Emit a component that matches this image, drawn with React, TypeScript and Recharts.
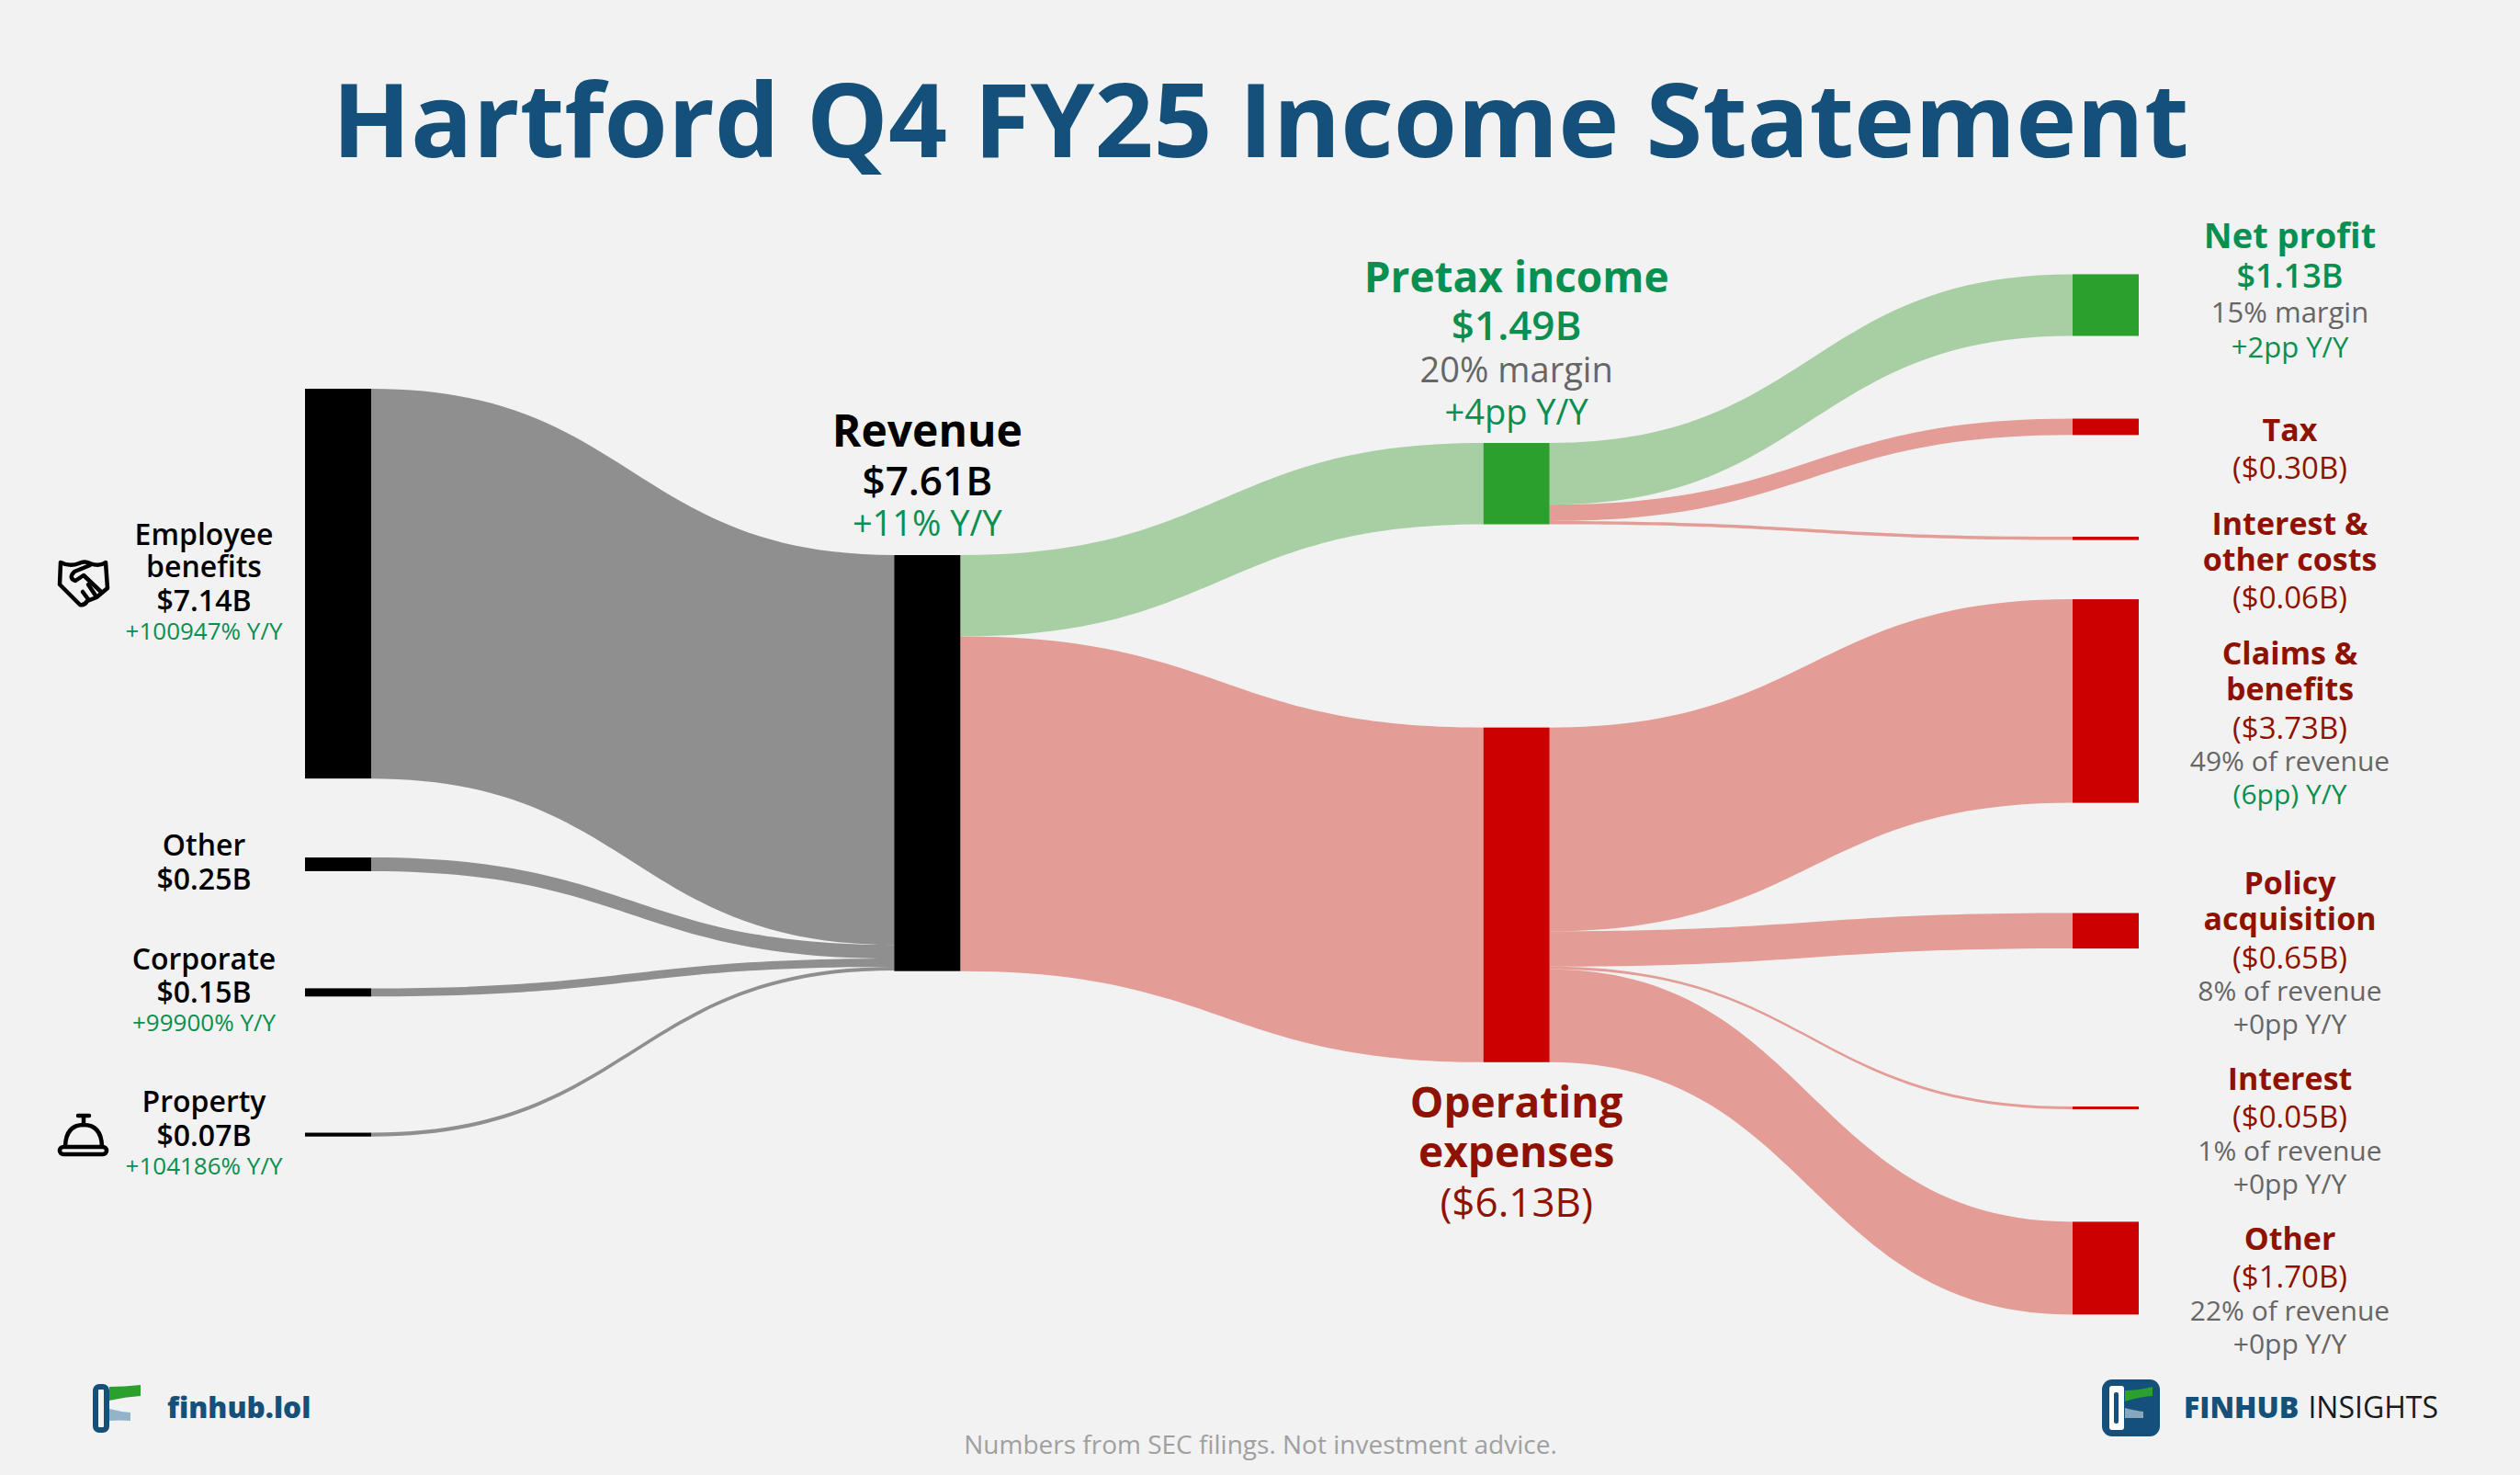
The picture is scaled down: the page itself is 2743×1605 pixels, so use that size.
import React from 'react';
import { Sankey } from 'recharts';

// ---- values ($B) ----
const segmentNames = ['Employee benefits', 'Other', 'Corporate', 'Property'];
const segmentValues = [7.14, 0.25, 0.15, 0.07];
const splitNames = ['Pretax income', 'Operating expenses'];
const splitValues = [1.49, 6.13];
const profitNames = ['Net profit', 'Tax', 'Interest & other costs'];
const profitValues = [1.13, 0.3, 0.06];
const expenseNames = ['Claims & benefits', 'Policy acquisition', 'Interest', 'Other costs'];
const expenseValues = [3.73, 0.65, 0.05, 1.7];

// ---- colours ----
const BG = '#f2f2f2';
const BLUE = '#14507a';
const GREEN_TEXT = '#098f50';
const RED_TEXT = '#8f1200';
const GREY_TEXT = '#666666';
const NODE_GREEN = '#2ca02c';
const NODE_RED = '#cc0000';
const LINK_GREY = '#8f8f8f';
const LINK_GREEN = '#a8cfa4';
const LINK_RED = '#e49c96';

// ---- layout: the empty space of each column, in px, from top to bottom ----
const PX_PER_B = 59.4;
const columnGaps = [
  [124.6, 85.9, 127.5, 148.2],
  [305.6],
  [183.6, 221.1],
  [90, 110.7, 64.4, 119.9, 171.9, 122.4],
];
const chartHeight = 1132;
const totalGap = columnGaps[3].reduce((a, b) => a + b, 0);

type Line = [string, number, number, number, string];
// text, baseline offset from node centre, size, weight, colour
const labels: Record<string, { dx: number; lines: Line[] }> = {
  'Employee benefits': { dx: -146, lines: [['Employee', -42, 32, 600, '#000'], ['benefits', -7, 32, 600, '#000'], ['$7.14B', 30, 32, 600, '#000'], ['+100947% Y/Y', 61, 26, 400, GREEN_TEXT]] },
  Other: { dx: -146, lines: [['Other', -9, 32, 600, '#000'], ['$0.25B', 28, 32, 600, '#000']] },
  Corporate: { dx: -146, lines: [['Corporate', -25, 32, 600, '#000'], ['$0.15B', 11, 32, 600, '#000'], ['+99900% Y/Y', 42, 26, 400, GREEN_TEXT]] },
  Property: { dx: -146, lines: [['Property', -24.5, 32, 600, '#000'], ['$0.07B', 12, 32, 600, '#000'], ['+104186% Y/Y', 43.5, 26, 400, GREEN_TEXT]] },
  Revenue: { dx: 0, lines: [['Revenue', -344, 48, 700, '#000'], ['$7.61B', -291, 44, 600, '#000'], ['+11% Y/Y', -247, 38, 400, GREEN_TEXT]] },
  'Pretax income': { dx: 0, lines: [['Pretax income', -208.5, 46, 700, GREEN_TEXT], ['$1.49B', -156, 44, 600, GREEN_TEXT], ['20% margin', -110.5, 38, 400, GREY_TEXT], ['+4pp Y/Y', -64.5, 38, 400, GREEN_TEXT]] },
  'Operating expenses': { dx: 0, lines: [['Operating', 242, 46, 700, RED_TEXT], ['expenses', 296, 46, 700, RED_TEXT], ['($6.13B)', 350, 44, 400, RED_TEXT]] },
  'Net profit': { dx: 200.5, lines: [['Net profit', -62, 38, 700, GREEN_TEXT], ['$1.13B', -19, 36, 600, GREEN_TEXT], ['15% margin', 19, 31, 400, GREY_TEXT], ['+2pp Y/Y', 57, 31, 400, GREEN_TEXT]] },
  Tax: { dx: 200.5, lines: [['Tax', 16, 34, 700, RED_TEXT], ['($0.30B)', 57, 33, 400, RED_TEXT]] },
  'Interest & other costs': { dx: 200.5, lines: [['Interest &', -4, 34, 700, RED_TEXT], ['other costs', 35, 34, 700, RED_TEXT], ['($0.06B)', 76, 33, 400, RED_TEXT]] },
  'Claims & benefits': { dx: 200.5, lines: [['Claims &', -40, 34, 700, RED_TEXT], ['benefits', -1, 34, 700, RED_TEXT], ['($3.73B)', 41, 33, 400, RED_TEXT], ['49% of revenue', 76, 30, 400, GREY_TEXT], ['(6pp) Y/Y', 112, 30, 400, GREEN_TEXT]] },
  'Policy acquisition': { dx: 200.5, lines: [['Policy', -40, 34, 700, RED_TEXT], ['acquisition', -1, 34, 700, RED_TEXT], ['($0.65B)', 41, 33, 400, RED_TEXT], ['8% of revenue', 76, 30, 400, GREY_TEXT], ['+0pp Y/Y', 112, 30, 400, GREY_TEXT]] },
  Interest: { dx: 200.5, lines: [['Interest', -20, 34, 700, RED_TEXT], ['($0.05B)', 21, 33, 400, RED_TEXT], ['1% of revenue', 57, 30, 400, GREY_TEXT], ['+0pp Y/Y', 93, 30, 400, GREY_TEXT]] },
  'Other costs': { dx: 200.5, lines: [['Other', -20, 34, 700, RED_TEXT], ['($1.70B)', 21, 33, 400, RED_TEXT], ['22% of revenue', 57, 30, 400, GREY_TEXT], ['+0pp Y/Y', 93, 30, 400, GREY_TEXT]] },
};

const nodeFill: Record<string, string> = { 'Pretax income': NODE_GREEN, 'Net profit': NODE_GREEN };
[profitNames[1], profitNames[2], splitNames[1], ...expenseNames].forEach((n) => (nodeFill[n] = NODE_RED));

// ---- Sankey graph. Real nodes go in each column in order; invisible spacer
// nodes carry the column gaps so the library's own stacking places the bars. ----
type N = { name: string; spacer?: boolean };
type K = { source: number; target: number; value: number; fill?: string; spacer?: boolean };
const nodes: N[] = [];
const links: K[] = [];
const spacerIds: number[][] = [[], [], [], []];
const spacerVals: number[][] = [[], [], [], []];

function addSpacer(col: number, px: number): void {
  nodes.push({ name: '', spacer: true });
  spacerIds[col].push(nodes.length - 1);
  spacerVals[col].push(px / PX_PER_B);
}
function addColumn(col: number, names: string[]): Record<string, number> {
  const gaps = columnGaps[col].slice();
  if (col < 3) gaps.push(totalGap - gaps.reduce((a, b) => a + b, 0));
  const ids: Record<string, number> = {};
  names.forEach((name, i) => {
    if (col < 3 || i > 0) addSpacer(col, col < 3 ? gaps[i] : gaps[i - 1]);
    nodes.push({ name });
    ids[name] = nodes.length - 1;
  });
  if (col < 3) addSpacer(col, gaps[names.length]);
  return ids;
}
const c0 = addColumn(0, segmentNames);
const c1 = addColumn(1, ['Revenue']);
const c2 = addColumn(2, splitNames);
const c3 = addColumn(3, [...profitNames, ...expenseNames]);

segmentNames.forEach((n, i) => links.push({ source: c0[n], target: c1.Revenue, value: segmentValues[i], fill: LINK_GREY }));
links.push({ source: c1.Revenue, target: c2[splitNames[0]], value: splitValues[0], fill: LINK_GREEN });
links.push({ source: c1.Revenue, target: c2[splitNames[1]], value: splitValues[1], fill: LINK_RED });
profitNames.forEach((n, i) => links.push({ source: c2[splitNames[0]], target: c3[n], value: profitValues[i], fill: i === 0 ? LINK_GREEN : LINK_RED }));
expenseNames.forEach((n, i) => links.push({ source: c2[splitNames[1]], target: c3[n], value: expenseValues[i], fill: LINK_RED }));

// spacers pass their size on from one column to the next
for (let col = 0; col < 3; col++) {
  const a = spacerVals[col].slice();
  const b = spacerVals[col + 1].slice();
  let i = 0;
  let j = 0;
  while (i < a.length && j < b.length) {
    const v = i === a.length - 1 && j === b.length - 1 ? Math.max(a[i], b[j]) : Math.min(a[i], b[j]);
    if (v > 1e-9) links.push({ source: spacerIds[col][i], target: spacerIds[col + 1][j], value: v, spacer: true });
    a[i] -= v;
    b[j] -= v;
    if (a[i] <= 1e-9 && i < a.length - 1) i++;
    else if (b[j] <= 1e-9 && j < b.length - 1) j++;
    else if (a[i] <= 1e-9 && b[j] <= 1e-9) break;
  }
}

const FONT = '"Open Sans", sans-serif';

function NodeShape(props: any) {
  const { x, y, width, height, payload } = props;
  if (payload.spacer) return <g />;
  const label = labels[payload.name];
  const cx = x + width / 2 + label.dx;
  const cy = y + height / 2;
  return (
    <g>
      <rect x={x} y={y} width={width} height={height} fill={nodeFill[payload.name] ?? '#000'} />
      {label.lines.map(([t, dy, size, weight, color]) => (
        <text key={t} x={cx} y={cy + dy} textAnchor="middle" fontFamily={FONT} fontSize={size} fontWeight={weight} fill={color}>
          {t}
        </text>
      ))}
    </g>
  );
}

function LinkShape(props: any) {
  const { sourceX, targetX, sourceY, targetY, sourceControlX, targetControlX, linkWidth, payload } = props;
  if (payload.spacer) return <g />;
  const h = linkWidth / 2;
  const d =
    `M${sourceX},${sourceY - h} C${sourceControlX},${sourceY - h} ${targetControlX},${targetY - h} ${targetX},${targetY - h} ` +
    `L${targetX},${targetY + h} C${targetControlX},${targetY + h} ${sourceControlX},${sourceY + h} ${sourceX},${sourceY + h} Z`;
  return <path d={d} fill={payload.fill} stroke="none" />;
}

function Overlay() {
  return (
    <svg width={2743} height={1605} style={{ position: 'absolute', left: 0, top: 0, pointerEvents: 'none' }}>
      <text x={1372} y={171} textAnchor="middle" fontFamily={FONT} fontSize={112} fontWeight={700} fill={BLUE}>
        Hartford Q4 FY25 Income Statement
      </text>
      <text x={1372} y={1582} textAnchor="middle" fontFamily={FONT} fontSize={28} fill="#a0a0a0">
        Numbers from SEC filings. Not investment advice.
      </text>

      {/* handshake */}
      <g fill="none" stroke="#000" strokeWidth={4.5} strokeLinejoin="round" strokeLinecap="round">
        <path d="M66,612 L65,636 L87,658 Q92,659 95,654 L105,650 L117,640 L115,612 Q108,617 98,613 Q92,610 86,613 Q76,617 66,612 Z" />
        <path d="M98,615 L81,622 Q74,629 82,632 L91,626 L110,644" />
        <path d="M96,652 L90,644 M104,648 L96,636" />
      </g>
      {/* bell */}
      <g fill="none" stroke="#000" strokeWidth={4.5} strokeLinecap="round">
        <path d="M71,1247 Q72,1224 91,1224 Q110,1224 111,1247" />
        <rect x={65} y={1248} width={51} height={8} rx={4} />
        <path d="M91,1216 L91,1224 M85,1214 L97,1214" />
      </g>

      {/* left logo */}
      <rect x={104} y={1509} width={12} height={47} rx={4} fill={BG} stroke={BLUE} strokeWidth={6} />
      <path d="M119,1509 Q136,1509 153,1507 L153,1519 Q136,1520 119,1524 Z" fill={NODE_GREEN} />
      <path d="M119,1533 Q130,1536 142,1537 L142,1546 Q130,1545 119,1546 Z" fill="#93b3c8" />
      <text x={182} y={1543} fontFamily={FONT} fontSize={31.5} fontWeight={800} fill={BLUE}>
        finhub.lol
      </text>

      {/* right logo */}
      <rect x={2288} y={1501} width={63} height={62} rx={11} fill={BLUE} />
      <rect x={2296} y={1508} width={16} height={48} rx={3} fill="#fff" />
      <rect x={2301} y={1515} width={5} height={34} rx={2} fill={BLUE} />
      <path d="M2313,1513 Q2328,1513 2343,1509 L2343,1519 Q2328,1520 2313,1525 Z" fill={NODE_GREEN} />
      <path d="M2313,1532 Q2325,1535 2333,1536 L2333,1543 Q2325,1543 2313,1543 Z" fill="#86a7bd" />
      <text x={2377} y={1543} fontFamily={FONT} fontSize={32}>
        <tspan fontWeight={800} fill={BLUE}>FINHUB</tspan>
        <tspan dx={10} fontWeight={400} fill="#1a1a1a">INSIGHTS</tspan>
      </text>
    </svg>
  );
}

export default function App() {
  return (
    <div style={{ position: 'absolute', left: 0, top: 0, width: 2743, height: 1605, background: BG, overflow: 'hidden' }}>
      <Sankey
        width={2743}
        height={1605}
        data={{ nodes, links }}
        margin={{ left: 332, right: 415, top: 298.4, bottom: 1605 - 298.4 - chartHeight }}
        nodeWidth={72}
        nodePadding={0}
        iterations={0}
        sort={false}
        linkCurvature={0.5}
        node={NodeShape}
        link={LinkShape}
      />
      <Overlay />
    </div>
  );
}
